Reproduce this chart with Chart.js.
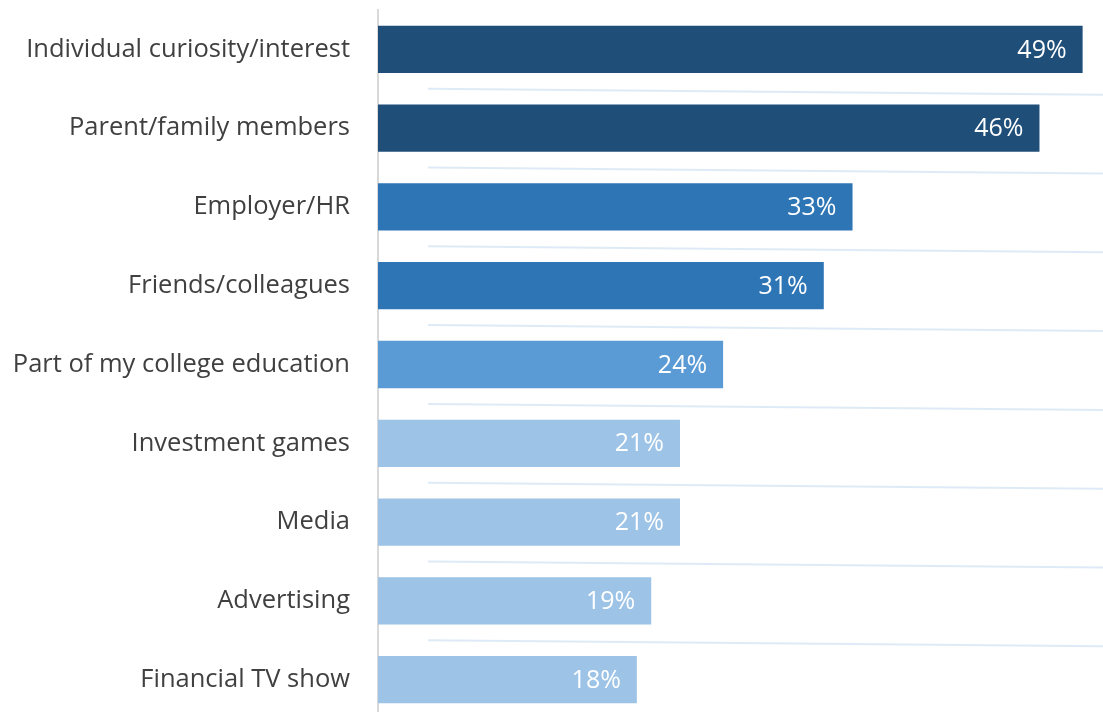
<!DOCTYPE html>
<html>
<head>
<meta charset="utf-8">
<script src="https://cdn.jsdelivr.net/npm/chart.js@4.4.1/dist/chart.umd.min.js"></script>
<style>
  html, body { margin: 0; padding: 0; background: #fff; overflow: hidden; }
  canvas { display: block; }
</style>
</head>
<body>
<canvas id="grafico" width="1103" height="720"></canvas>
<script>
const categorias = [
    'Individual curiosity/interest',
    'Parent/family members',
    'Employer/HR',
    'Friends/colleagues',
    'Part of my college education',
    'Investment games',
    'Media',
    'Advertising',
    'Financial TV show'
];
const valores = [49, 46, 33, 31, 24, 21, 21, 19, 18];
const colores = ['#1F4E79', '#1F4E79', '#2E75B6', '#2E75B6', '#5B9BD5', '#9DC3E6', '#9DC3E6', '#9DC3E6', '#9DC3E6'];

// etiquetas blancas dentro de la barra
const etiquetas = {
    id: 'etiquetas',
    afterDatasetsDraw(chart) {
        const ctx = chart.ctx;
        const meta = chart.getDatasetMeta(0);
        ctx.save();
        ctx.fillStyle = '#ffffff';
        ctx.font = '25px "Open Sans", sans-serif';
        ctx.textAlign = 'right';
        ctx.textBaseline = 'middle';
        meta.data.forEach((bar, i) => {
            ctx.fillText(valores[i] + '%', bar.x - 16, bar.y + 1);
        });
        ctx.restore();
    }
};

// lineas tenues entre categorias
const lineas = {
    id: 'lineas',
    beforeDatasetsDraw(chart) {
        const ctx = chart.ctx;
        const y = chart.scales.y;
        const area = chart.chartArea;
        ctx.save();
        ctx.strokeStyle = 'rgba(189, 215, 238, 0.5)';
        ctx.lineWidth = 2;
        for (let i = 0; i < categorias.length - 1; i++) {
            const yMid = (y.getPixelForValue(i) + y.getPixelForValue(i + 1)) / 2;
            ctx.beginPath();
            ctx.moveTo(area.left + 50, yMid);
            ctx.lineTo(chart.width, yMid + 6);
            ctx.stroke();
        }
        ctx.restore();
    }
};

new Chart(document.getElementById('grafico'), {
    type: 'bar',
    data: {
        labels: categorias,
        datasets: [{
            data: valores,
            backgroundColor: colores,
            borderWidth: 0,
            barPercentage: 0.6,
            categoryPercentage: 1
        }]
    },
    options: {
        responsive: false,
        indexAxis: 'y',
        animation: false,
        layout: { padding: { top: 10, bottom: 1, right: 6, left: 0 } },
        plugins: {
            legend: { display: false },
            tooltip: { enabled: false }
        },
        scales: {
            x: {
                min: 0,
                max: 50,
                display: false
            },
            y: {
                afterFit(scale) {
                    scale.width = 378;
                    scale.paddingTop = 0;
                    scale.paddingBottom = 0;
                },
                grid: { display: false, drawTicks: false },
                border: { display: true, color: '#d9d9d9', width: 2 },
                ticks: {
                    color: '#404040',
                    padding: 28,
                    font: { family: '"Open Sans", sans-serif', size: 25.5 }
                }
            }
        }
    },
    plugins: [lineas, etiquetas]
});
</script>
</body>
</html>
